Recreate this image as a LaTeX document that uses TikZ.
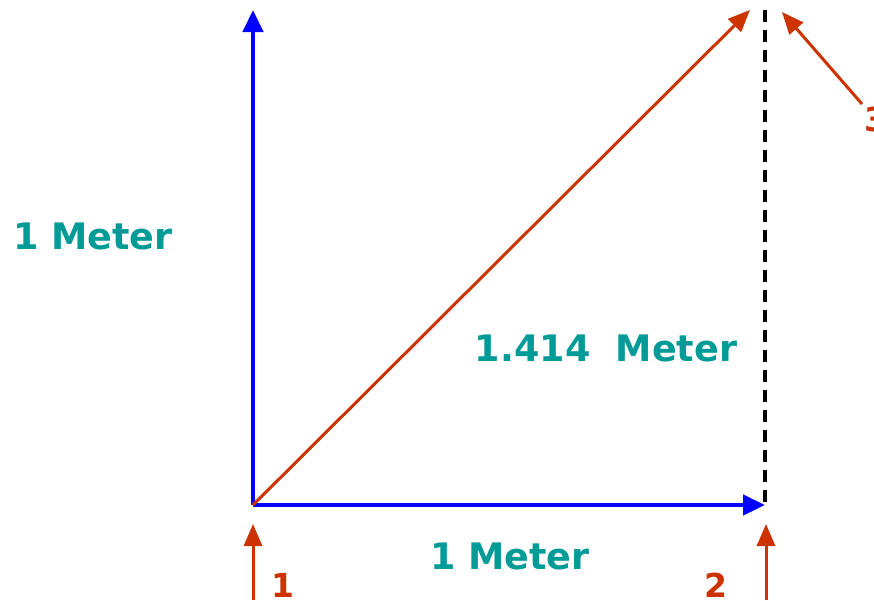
\documentclass[tikz,border=0pt]{standalone}
\usepackage{fontspec}
\setmainfont{DejaVu Sans}
\usetikzlibrary{arrows.meta}
\definecolor{teal1}{HTML}{009B96}
\definecolor{redo}{HTML}{CC3300}
\begin{document}
\begin{tikzpicture}[x=1pt,y=-1pt,
  blueline/.style={draw=blue,line width=4.5pt,-{Triangle[length=22pt,width=20pt]}},
  redline/.style={draw=redo,line width=3pt,-{Triangle[length=22pt,width=18pt]}},
  lbl/.style={text=teal1,font=\bfseries\fontsize{36.5}{40}\selectfont,inner sep=0pt},
  num/.style={text=redo,font=\bfseries\fontsize{33}{35}\selectfont,inner sep=0pt}]
\useasboundingbox (0,0) rectangle (874,600);
\coordinate (O) at (253,505);
\coordinate (T) at (253,10);
\coordinate (R) at (765,505);
\coordinate (D) at (750,10);
\coordinate (DT) at (765,10);
\coordinate (s3) at (862,104);
\coordinate (e3) at (782,12);
\coordinate (s1) at (253,600);
\coordinate (e1) at (253,524);
\coordinate (s2) at (766,600);
\coordinate (e2) at (766,524);
\draw[black,line width=4pt,dash pattern=on 12pt off 8pt] (DT) -- (R);
\draw[blueline] (O) -- (T);
\draw[blueline] (O) -- (R);
\draw[redline] (O) -- (D);
\draw[redline] (s3) -- (e3);
\draw[redline] (s1) -- (e1);
\draw[redline] (s2) -- (e2);
\node[lbl] (m1) at (93,236) {1 Meter};
\node[lbl] (m2) at (606,348) {1.414\ \ Meter};
\node[lbl] (m3) at (510,556) {1 Meter};
\node[num] (n1) at (283,585) {1};
\node[num] (n2) at (716,585) {2};
\node[num,anchor=west] (n3) at (864,119) {3};
\end{tikzpicture}
\end{document}
